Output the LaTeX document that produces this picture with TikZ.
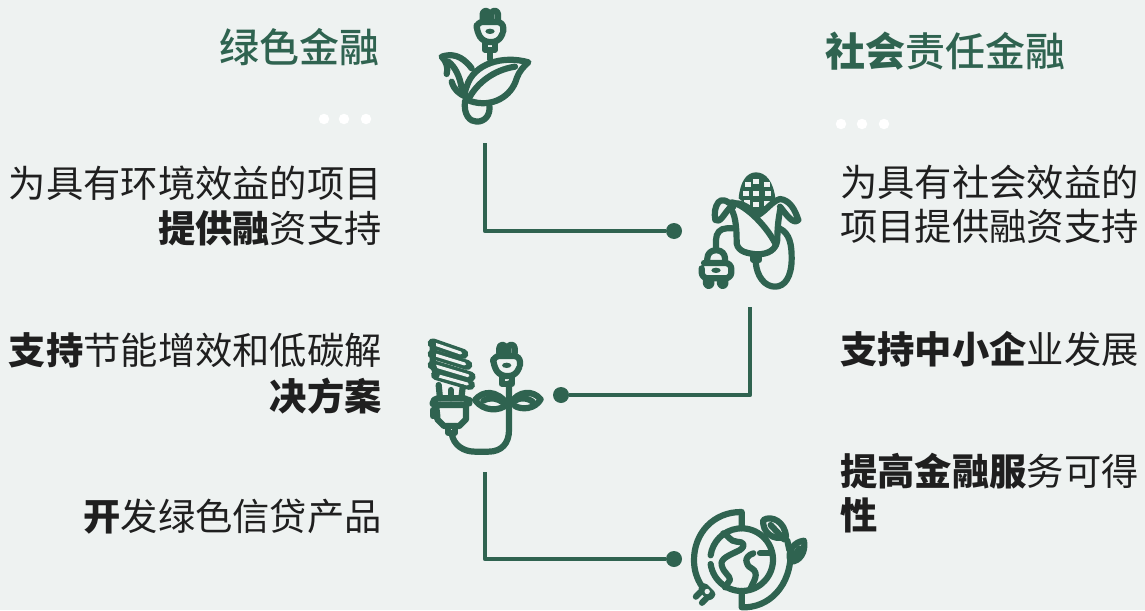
\documentclass[tikz,border=0pt]{standalone}
\usepackage{fontspec}
\setmainfont{Noto Sans CJK SC}
\newfontfamily\medf{Noto Sans CJK SC Medium}
\usetikzlibrary{calc}
\definecolor{bgc}{HTML}{EEF2F1}
\definecolor{grn}{HTML}{2F6350}
\definecolor{ink}{HTML}{1F1F1F}
\tikzset{
 txt/.style={inner sep=0pt,text=ink,font=\fontsize{37.3}{44}\selectfont},
 rtxt/.style={txt,anchor=east},
 ltxt/.style={txt,anchor=west},
 headtxt/.style={inner sep=0pt,text=grn,font=\fontsize{40}{46}\selectfont},
 wdot/.style={circle,fill=white,inner sep=0pt,minimum size=10.5pt},
 gdot/.style={circle,fill=grn,inner sep=0pt,minimum size=16pt},
 conn/.style={draw=grn,line width=4.8pt,line join=round},
 ic/.style={draw=grn,line width=6.2pt,line cap=round,line join=round},
}
% plug drawn in zoom units, centred at x=0
\newcommand{\plugshape}{%
 \draw[ic] (-22,30) -- (-22,14) arc[start angle=180,end angle=360,radius=9.5] -- (-3,30);
 \draw[ic] (4,30) -- (4,14) arc[start angle=180,end angle=360,radius=10] -- (24,30);
 \draw[ic,rounded corners=6pt] (40,66) -- (40,38) -- (-40,38) -- (-40,66) -- (-20,98) -- (25,98) -- (38,72);
 \fill[grn] (0,66) ellipse (14 and 8);
 \draw[ic] (-15,98) -- (-15,121) -- (15,121) -- (15,98);
}
\begin{document}
\begin{tikzpicture}[x=1pt,y=-1pt]
\path[fill=bgc] (0,0) rectangle (1145,610);
\useasboundingbox (0,0) rectangle (1145,610);
% headings
\node[headtxt,anchor=east] (h1) at (380,47) {\medf 绿色金融};
\node[headtxt,anchor=west] (h2) at (825,51) {\textbf{社会}{\medf 责任金融}};
% dots
\node[wdot] (d1) at (324,119) {};
\node[wdot] (d2) at (344,119) {};
\node[wdot] (d3) at (366,119) {};
\node[wdot] (d4) at (841,124) {};
\node[wdot] (d5) at (862,124) {};
\node[wdot] (d6) at (884,124) {};
% left text
\node[rtxt] (l1) at (382,183) {为具有环境效益的项目};
\node[rtxt] (l2) at (382,228) {\textbf{提供融}资支持};
\node[rtxt] (l3) at (382,350) {\textbf{支持}节能增效和低碳解};
\node[rtxt] (l4) at (382,396) {\textbf{决方案}};
\node[rtxt] (l5) at (382,517) {\textbf{开}发绿色信贷产品};
% right text
\node[ltxt] (r1) at (840,182) {为具有社会效益的};
\node[ltxt] (r2) at (840,226) {项目提供融资支持};
\node[ltxt] (r3) at (840,349) {\textbf{支持中小企}业发展};
\node[ltxt] (r4) at (840,471) {\textbf{提高金融服}务可得};
\node[ltxt] (r5) at (840,515) {\textbf{性}};
% connectors
\coordinate (c1) at (485,143);
\coordinate (c2) at (750,307);
\coordinate (c3) at (485,472);
\node[gdot] (g1) at (674,231) {};
\node[gdot] (g2) at (561,395) {};
\node[gdot] (g3) at (674,559) {};
\draw[conn] (c1) |- (g1);
\draw[conn] (c2) |- (g2);
\draw[conn] (c3) |- (g3);
% icon 1
\begin{scope}[shift={(420,0)},scale=1/3]
 \begin{scope}[shift={(210,28)}]\plugshape\end{scope}
 \draw[ic] (210,150) -- (210,178);
 \draw[ic] (325,187) .. controls (250,165) and (160,190) .. (140,260) .. controls (130,285) and (135,295) .. (150,303) .. controls (215,325) and (275,290) .. (290,235) .. controls (297,215) and (310,200) .. (325,187) -- cycle;
 \draw[ic] (285,200) .. controls (220,210) and (170,250) .. (145,298);
 \draw[ic] (155,205) .. controls (125,165) and (95,160) .. (65,170) .. controls (80,185) and (85,205) .. (80,222);
 \draw[ic] (85,185) .. controls (105,200) and (120,230) .. (125,265);
 \draw[ic] (95,245) .. controls (102,270) and (118,282) .. (137,290);
 \draw[ic] (135,303) .. controls (130,345) and (150,365) .. (170,365) .. controls (195,365) and (212,345) .. (208,316);
\end{scope}
% icon 2
\begin{scope}[shift={(690,165)},scale=1/3]
 \fill[grn] (146,100) .. controls (150,50) and (170,22) .. (198,22) .. controls (228,22) and (250,50) .. (256,100) -- (200,145) -- cycle;
 \foreach \x/\y in {190/42,190/78,190/110,160/78,224/78,165/52,222/52,222/108,162/104}{
  \fill[bgc] (\x,\y) rectangle ++(18,15);}
 \draw[ic] (130,125) .. controls (110,105) and (95,100) .. (85,112) .. controls (75,125) and (72,145) .. (76,165) .. controls (90,175) and (100,150) .. (118,130);
 \draw[ic] (140,115) .. controls (160,115) and (185,135) .. (205,150) .. controls (230,135) and (245,110) .. (270,102) .. controls (300,105) and (315,135) .. (325,165) .. controls (310,180) and (290,150) .. (270,125);
 \draw[ic] (120,128) .. controls (135,145) and (140,180) .. (140,235) .. controls (145,262) and (175,265) .. (200,268) .. controls (235,268) and (258,255) .. (262,225) .. controls (262,190) and (265,160) .. (272,128);
 \draw[ic] (125,112) .. controls (170,120) and (235,190) .. (258,240);
 \draw[ic] (190,270) -- (190,285) -- (208,285) -- (208,270);
 \draw[ic] (197,290) .. controls (200,335) and (225,365) .. (255,365) .. controls (285,365) and (305,335) .. (305,280) .. controls (305,240) and (300,205) .. (268,190);
 \draw[ic] (128,190) -- (110,190) .. controls (90,190) and (78,205) .. (78,225) -- (78,250);
 \draw[ic,rounded corners=8pt] (52,288) -- (52,256) -- (105,256) -- (105,288);
 \draw[ic,rounded corners=6pt] (35,310) -- (35,340) -- (124,340) -- (124,294) -- (42,294);
 \fill[grn] (78,316) ellipse (14 and 8);
 \draw[ic] (48,345) -- (48,355) arc[start angle=180,end angle=0,radius=8] -- (64,345);
 \draw[ic] (90,345) -- (90,355) arc[start angle=180,end angle=0,radius=8] -- (106,345);
\end{scope}
% icon 3
\begin{scope}[shift={(420,330)},scale=1/3]
 \foreach \a/\b/\c/\d in {38/40/130/72, 38/72/142/105, 38/105/152/140, 48/135/150/165}{
  \draw[grn,line width=10pt,line cap=round] (\a,\b) -- (\c,\d);
  \draw[bgc,line width=3pt,line cap=round] (\a+10,\b+3.5) -- (\c-8,\d-3);}
 \draw[ic] (38,40) -- (38,105) -- (50,135);
 \draw[ic] (56,165) -- (60,205);
 \draw[ic] (92,180) -- (92,205);
 \draw[ic] (128,172) -- (124,205);
 \draw[ic,rounded corners=5pt] (38,222) -- (38,205) -- (148,205) -- (148,225) -- (48,225);
 \draw[ic] (38,240) -- (38,258);
 \draw[ic] (48,225) -- (52,258) -- (52,268) -- (72,288) -- (118,288) -- (138,268) -- (138,225);
 \draw[ic] (85,288) -- (85,308) -- (105,308) -- (105,288);
 \draw[ic] (95,310) .. controls (100,345) and (130,365) .. (165,365) -- (205,365) .. controls (245,365) and (267,340) .. (267,300) -- (267,160);
 \begin{scope}[shift={(260,40)}]\plugshape\end{scope}
 \draw[ic] (165,210) .. controls (190,180) and (230,180) .. (262,222) .. controls (240,245) and (190,245) .. (165,210) -- cycle;
 \draw[ic] (190,212) .. controls (210,200) and (235,205) .. (250,218);
 \draw[ic] (270,222) .. controls (295,180) and (340,180) .. (362,208) .. controls (345,238) and (305,240) .. (285,228);
 \draw[ic] (285,212) .. controls (305,200) and (325,205) .. (338,215);
\end{scope}
% icon 4
\begin{scope}[shift={(680,500)},scale=1/3]
 \draw[ic] (185,179) ++(172:94) arc[start angle=172,end angle=-172,radius=94];
 \draw[ic] (185,85) -- (185,36) .. controls (100,35) and (42,100) .. (42,180) .. controls (42,210) and (50,235) .. (65,258);
 \draw[ic] (185,273) -- (185,322) .. controls (265,325) and (335,260) .. (332,150);
 \draw[ic] (328,150) -- (322,122);
 \draw[ic] (250,60) .. controls (275,45) and (315,65) .. (318,110) .. controls (280,125) and (245,95) .. (250,60) -- cycle;
 \draw[ic] (272,75) -- (312,118);
 \draw[ic] (332,185) .. controls (320,150) and (345,125) .. (372,122) .. controls (378,155) and (360,185) .. (332,185) -- cycle;
 \draw[ic] (335,180) -- (358,145);
 \draw[ic] (130,100) .. controls (145,105) and (150,125) .. (170,125) .. controls (190,125) and (200,135) .. (180,150) .. controls (150,165) and (120,175) .. (125,195) .. controls (130,220) and (150,225) .. (150,240) -- (135,262);
 \draw[ic] (270,160) -- (240,160);
 \draw[ic] (220,160) .. controls (190,170) and (195,195) .. (215,205) .. controls (240,220) and (220,245) .. (212,265);
 \begin{scope}[shift={(78,278)},rotate=-45]
  \fill[grn,rounded corners=4pt] (-27,-20) rectangle (27,12);
  \fill[bgc] (0,-5) circle (8);
  \draw[ic] (-13,12) -- (-13,30);
  \draw[ic] (13,12) -- (13,30);
 \end{scope}
\end{scope}
\end{tikzpicture}
\end{document}
